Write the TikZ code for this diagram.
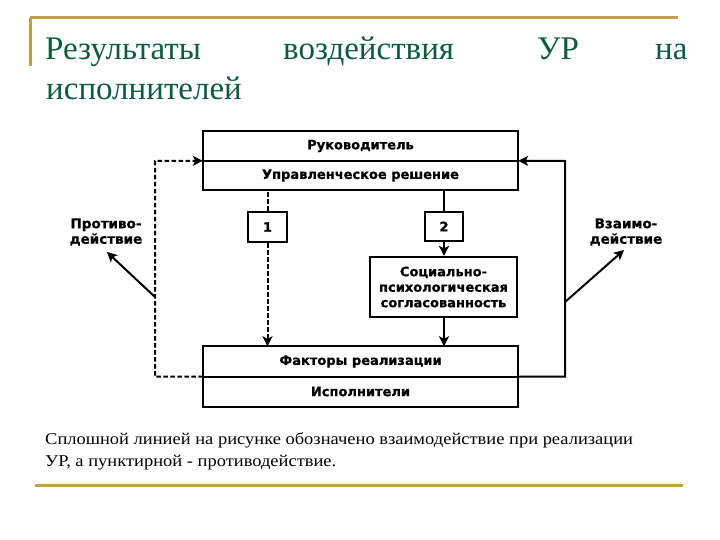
\documentclass[tikz,border=0pt]{standalone}
\usepackage{fontspec}
\setmainfont{Liberation Serif}
\newfontfamily\diagfont[BoldFeatures={FakeBold=0.8}]{DejaVu Sans}
\newfontfamily\capfont[FakeStretch=1.12]{Liberation Serif}
\usetikzlibrary{arrows.meta}
\definecolor{gold}{HTML}{BFA048}
\definecolor{titlegreen}{HTML}{0E5C3E}
\begin{document}
\begin{tikzpicture}[x=1pt,y=-1pt,
  txt/.style={inner sep=0pt, font=\diagfont\bfseries\fontsize{13}{15.5}\selectfont, align=center},
  box/.style={txt, draw, line width=2.2pt},
  frame/.style={line width=2.2pt},
  divider/.style={line width=1.6pt},
  conn/.style={line width=2pt},
  dsh/.style={line width=2pt, dash pattern=on 4.5pt off 2.5pt},
  arr/.style={-{Stealth[length=10pt,width=10pt,inset=2.5pt]}},
  lbl/.style={font=\diagfont\bfseries\fontsize{13.5}{15.5}\selectfont, align=center, inner sep=0pt},
  ttl/.style={text=titlegreen, font=\fontsize{33}{40}\selectfont, anchor=base west, inner sep=0pt},
  captxt/.style={font=\capfont\fontsize{16.5}{22}\selectfont, anchor=base west, inner sep=0pt}
]
\useasboundingbox (0,0) rectangle (720,540);
\fill[white] (0,0) rectangle (720,540);
% gold frame lines
\draw[gold, line width=3pt] (30,18) -- (678,18);
\draw[gold, line width=3pt] (30,18) -- (30,66);
\draw[gold, line width=3pt] (35,485) -- (683,485);
% title
\node[ttl] (t1) at (45,60) {Результаты};
\node[ttl] (t2) at (283,60) {воздействия};
\node[ttl] (t3) at (537,60) {УР};
\node[ttl] (t4) at (655,60) {на};
\node[ttl] (t5) at (46,100) {исполнителей};
% boxes
\node[txt, minimum width=315pt, minimum height=30pt] (ruk) at (360.5,146) {Руководитель};
\node[txt, minimum width=315pt, minimum height=29pt] (upr) at (360.5,175.5) {Управленческое решение};
\draw[frame] (ruk.north west) rectangle (upr.south east);
\draw[divider] (upr.north west) -- (upr.north east);
\node[box, minimum width=39pt, minimum height=30pt] (b1) at (267.5,227) {1};
\node[box, minimum width=38pt, minimum height=29pt] (b2) at (444,226.5) {2};
\node[box, minimum width=147pt, minimum height=60pt] (soc) at (443.5,287) {Социально-\\психологическая\\согласованность};
\node[txt, minimum width=315pt, minimum height=30pt] (fak) at (360.5,361.5) {Факторы реализации};
\node[txt, minimum width=315pt, minimum height=31pt] (isp) at (360.5,391.5) {Исполнители};
\draw[frame] (fak.north west) rectangle (isp.south east);
\draw[divider] (fak.south west) -- (fak.south east);
% labels
\node[lbl] (prot) at (106,232) {Противо-\\действие};
\node[lbl] (vzai) at (626,232) {Взаимо-\\действие};
% connectors
\coordinate (L1) at (155,161);
\coordinate (L2) at (fak.south west -| L1);
\coordinate (R1) at (565,161);
\coordinate (R2) at (fak.south east -| R1);
\coordinate (pa) at (155,297);
\coordinate (pt) at (107,252);
\coordinate (va) at (565,302);
\coordinate (vt) at (624,250);
\draw[dsh] (b1.north) -- (b1.north |- upr.south);
\draw[dsh, arr] (b1.south) -- (b1.south |- fak.north);
\draw[conn] (b2.north) -- (b2.north |- upr.south);
\draw[conn, arr] (b2.south) -- (b2.south |- soc.north);
\draw[conn, arr] (soc.south -| b2.south) -- (b2.south |- fak.north);
\draw[dsh, arr] (fak.south west) -- (L2) -- (L1) -- (upr.north west);
\draw[conn, arr] (fak.south east) -- (R2) -- (R1) -- (upr.north east);
\draw[conn, arr] (pa) -- (pt);
\draw[conn, arr] (va) -- (vt);
% caption
\node[captxt] (c1) at (45,444) {Сплошной линией на рисунке обозначено взаимодействие при реализации};
\node[captxt] (c2) at (45,466) {УР, а пунктирной - противодействие.};
\end{tikzpicture}
\end{document}
